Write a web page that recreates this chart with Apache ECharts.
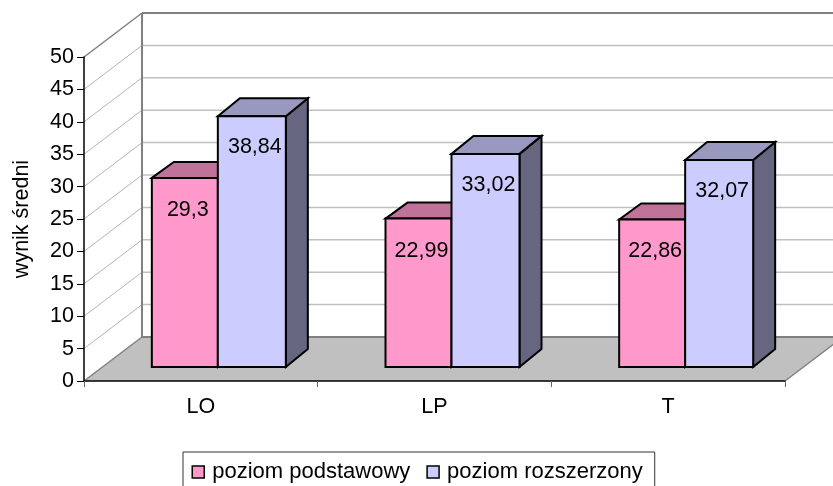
<!DOCTYPE html>
<html><head><meta charset="utf-8">
<style>html,body{margin:0;padding:0;background:#fff}#c{width:833px;height:486px}</style>
<script src="https://cdn.jsdelivr.net/npm/echarts@6/dist/echarts.min.js"></script>
</head><body><div id="c"></div>
<script>
const categories = ['LO', 'LP', 'T'];
const seriesNames = ['poziom podstawowy', 'poziom rozszerzony'];
const basicValues = [29.3, 22.99, 22.86];
const extendedValues = [38.84, 33.02, 32.07];
const basicLabels = ['29,3', '22,99', '22,86'];
const extendedLabels = ['38,84', '33,02', '32,07'];
const yTicks = [0, 5, 10, 15, 20, 25, 30, 35, 40, 45, 50];

const WALL = [58, -44], FRONT = [17, -14], BAR_SCALE = 0.996;
const FONT = '"Liberation Sans", Arial, sans-serif';
const chart = echarts.init(document.getElementById('c'));

function poly(points, fill, stroke, lw) {
  return { type: 'polygon', shape: { points }, style: { fill, stroke, lineWidth: lw, lineJoin: 'miter' } };
}
function line(x1, y1, x2, y2, stroke, lw) {
  return { type: 'line', shape: { x1, y1, x2, y2 }, style: { stroke, lineWidth: lw } };
}
function renderWall(params, api) {
  const v = api.value(0), cs = params.coordSys;
  const y = api.coord([0, v])[1], L = cs.x, R = cs.x + cs.width;
  const bx = L + WALL[0], by = y + WALL[1], end = R + WALL[0];
  const ch = [];
  if (v === 0) {
    ch.push(poly([[L, y], [bx, by], [end, by], [R, y]], '#C0C0C0', null, 0));
    ch.push(line(L, y, bx, by, '#808080', 1.5));
    ch.push(line(R, y, end, by, '#808080', 1.5));
    ch.push(line(bx, by, end, by, '#808080', 2));
  } else if (v === 50) {
    ch.push(line(L, y, bx, by, '#808080', 1.5));
    ch.push(line(bx, by, end, by, '#808080', 2));
    ch.push(line(bx, by, bx, api.coord([0, 0])[1] + WALL[1], '#808080', 2));
  } else {
    ch.push(line(L, y, bx, by, '#B4B4B4', 1));
    ch.push(line(bx, by, end, by, '#C0C0C0', 1.5));
  }
  return { type: 'group', children: ch };
}
function barRenderer(colors, labels, side, depthY, labelDy, labelDx) {
  return function (params, api) {
    const cat = api.value(0), val = api.value(1);
    const c0 = api.coord([cat, 0]), c1 = api.coord([cat, val]);
    const mid = c0[0] + FRONT[0], w = side < 0 ? 66 : 68;
    const x0 = side < 0 ? mid - w : mid, x1 = x0 + w;
    const yb = c0[1] + FRONT[1], yt = yb - (c0[1] - c1[1]) * BAR_SCALE;
    const dx = 22, dy = depthY, k = '#000', lw = 2;
    return { type: 'group', children: [
      poly([[x1, yb], [x1 + dx, yb - dy], [x1 + dx, yt - dy], [x1, yt]], colors[2], k, lw),
      poly([[x0, yt], [x0 + dx, yt - dy], [x1 + dx, yt - dy], [x1, yt]], colors[1], k, lw),
      poly([[x0, yb], [x0, yt], [x1, yt], [x1, yb]], colors[0], k, lw),
      { type: 'text', x: (x0 + x1) / 2 + labelDx, y: yt + labelDy, style: {
          text: labels[cat], fill: '#000', font: '21.5px ' + FONT, align: 'center', verticalAlign: 'middle' } }
    ] };
  };
}
chart.setOption({
  animation: false,
  backgroundColor: '#fff',
  textStyle: { fontFamily: FONT },
  grid: { left: 84, right: 48, top: 57, bottom: 105, containLabel: false },
  xAxis: {
    type: 'category', data: categories, z: 5,
    axisLine: { lineStyle: { color: '#000', width: 1.5 } },
    axisTick: { show: true, alignWithLabel: false, length: 6, lineStyle: { color: '#666', width: 1 } },
    axisLabel: { color: '#000', fontSize: 21.5, fontFamily: FONT, margin: 15 }
  },
  yAxis: {
    type: 'value', min: 0, max: 50, interval: 5, z: 5,
    name: 'wynik średni', nameLocation: 'middle', nameRotate: 90, nameGap: 51,
    nameTextStyle: { color: '#000', fontSize: 21.5, fontFamily: FONT },
    splitLine: { show: false },
    axisLine: { show: true, lineStyle: { color: '#000', width: 1.5 } },
    axisTick: { show: true, length: 7, lineStyle: { color: '#000', width: 1 } },
    axisLabel: { color: '#000', fontSize: 21.5, fontFamily: FONT, margin: 10 }
  },
  legend: {
    data: seriesNames, left: 183, top: 452, orient: 'horizontal',
    icon: 'rect', itemWidth: 12, itemHeight: 12, itemGap: 16,
    padding: [9, 12, 9, 8.5], borderColor: '#333', borderWidth: 1, backgroundColor: '#fff',
    textStyle: { color: '#000', fontSize: 22, fontFamily: FONT, padding: [0, 0, 0, 3] },
    itemStyle: { borderColor: '#000', borderWidth: 1.5 }
  },
  series: [
    { type: 'custom', name: 'wall', silent: true, z: 1, data: yTicks.map(v => [v]),
      encode: { y: 0 }, renderItem: renderWall, clip: false },
    { type: 'custom', name: seriesNames[0], z: 2, itemStyle: { color: '#FF99CC' }, clip: false,
      data: basicValues.map((v, i) => [i, v]), encode: { x: 0, y: 1 },
      renderItem: barRenderer(['#FF99CC', '#BF7399', '#804D66'], basicLabels, -1, 16, 32, 3) },
    { type: 'custom', name: seriesNames[1], z: 3, itemStyle: { color: '#CCCCFF' }, clip: false,
      data: extendedValues.map((v, i) => [i, v]), encode: { x: 0, y: 1 },
      renderItem: barRenderer(['#CCCCFF', '#9999BF', '#666680'], extendedLabels, 1, 18, 31, 3) }
  ]
});
</script></body></html>
